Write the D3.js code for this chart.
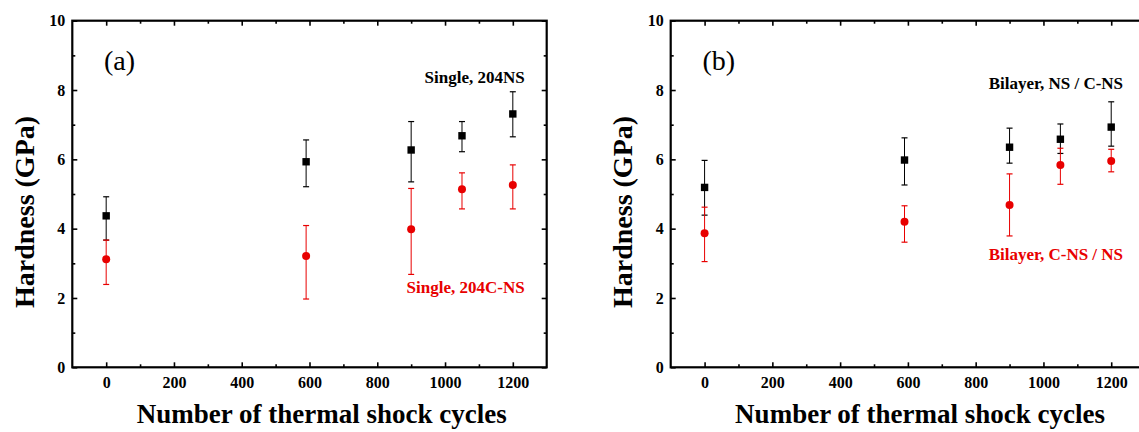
<!DOCTYPE html>
<html>
<head>
<meta charset="utf-8">
<script src="https://cdn.jsdelivr.net/npm/d3@7"></script>
<style>
  body { margin: 0; background: #fff; }
</style>
</head>
<body>
<svg width="1139" height="432"></svg>
<script>
// thermal shock cycles (x) shared by every series
const cycles = [0, 590, 900, 1050, 1200];

// panel (a) single layer
const single204NS = [4.37, 5.93, 6.27, 6.68, 7.31];
const single204NSLow = [3.67, 5.21, 5.35, 6.22, 6.65];
const single204NSHigh = [4.92, 6.56, 7.09, 7.09, 7.95];
const single204CNS = [3.12, 3.21, 3.98, 5.14, 5.26];
const single204CNSLow = [2.39, 1.97, 2.68, 4.57, 4.57];
const single204CNSHigh = [3.67, 4.09, 5.16, 5.61, 5.84];

// panel (b) bilayer
const bilayerNS = [5.19, 5.98, 6.35, 6.58, 6.93];
const bilayerNSLow = [4.39, 5.26, 5.89, 6.17, 6.38];
const bilayerNSHigh = [5.97, 6.62, 6.90, 7.02, 7.66];
const bilayerCNS = [3.87, 4.20, 4.68, 5.84, 5.95];
const bilayerCNSLow = [3.05, 3.61, 3.79, 5.28, 5.64];
const bilayerCNSHigh = [4.62, 4.66, 5.58, 6.32, 6.29];

const xMajor = [0, 200, 400, 600, 800, 1000, 1200];
const xMinor = [100, 300, 500, 700, 900, 1100];
const yMajor = [0, 2, 4, 6, 8, 10];
const yMinor = [1, 3, 5, 7, 9];

const RED = "#e80000";
const FONT = "'Liberation Serif', 'Times New Roman', Times, serif";

window.addEventListener('load', () => {
    const svg = d3.select("svg").style("font-family", FONT);
    const W = 474.4, H = 346.6;

    const panels = [
        { left: 72.3, tag: "(a)",
          series: [
            { y: single204NS, lo: single204NSLow, hi: single204NSHigh, color: "#000", shape: "square" },
            { y: single204CNS, lo: single204CNSLow, hi: single204CNSHigh, color: RED, shape: "circle" }
          ],
          labels: [
            { text: "Single, 204NS", color: "#000", y: 62.3 },
            { text: "Single, 204C-NS", color: RED, y: 272.3 }
          ] },
        { left: 670.7, tag: "(b)",
          series: [
            { y: bilayerNS, lo: bilayerNSLow, hi: bilayerNSHigh, color: "#000", shape: "square" },
            { y: bilayerCNS, lo: bilayerCNSLow, hi: bilayerCNSHigh, color: RED, shape: "circle" }
          ],
          labels: [
            { text: "Bilayer, NS / C-NS", color: "#000", y: 68.3 },
            { text: "Bilayer, C-NS / NS", color: RED, y: 239.3 }
          ] }
    ];

    panels.forEach(p => {
        const g = svg.append("g").attr("transform", "translate(" + p.left + ",20.7)");
        const x = d3.scaleLinear().domain([-100, 1300]).range([0, W]);
        const y = d3.scaleLinear().domain([0, 10]).range([H, 0]);

        // ticks point inward on all four sides
        const styleAxis = (sel) => {
            sel.attr("font-family", FONT);
            sel.select(".domain").remove();
            sel.selectAll(".tick line").attr("stroke", "#000").attr("stroke-width", 1.6);
            sel.selectAll("text").attr("fill", "#000")
                .style("font-family", FONT).style("font-size", "16px").style("font-weight", "bold");
        };
        const fmt = d3.format("d");
        g.append("g").attr("transform", "translate(0," + H + ")")
            .call(d3.axisBottom(x).tickValues(xMajor).tickSize(-5).tickPadding(9).tickFormat(fmt)).call(styleAxis);
        g.append("g").attr("transform", "translate(0," + H + ")")
            .call(d3.axisBottom(x).tickValues(xMinor).tickSize(-3).tickFormat("")).call(styleAxis);
        g.append("g").call(d3.axisTop(x).tickValues(xMajor).tickSize(-5).tickFormat("")).call(styleAxis);
        g.append("g").call(d3.axisTop(x).tickValues(xMinor).tickSize(-3).tickFormat("")).call(styleAxis);
        g.append("g").call(d3.axisLeft(y).tickValues(yMajor).tickSize(-5).tickPadding(7).tickFormat(fmt)).call(styleAxis);
        g.append("g").call(d3.axisLeft(y).tickValues(yMinor).tickSize(-3).tickFormat("")).call(styleAxis);
        g.append("g").attr("transform", "translate(" + W + ",0)")
            .call(d3.axisRight(y).tickValues(yMajor).tickSize(-5).tickFormat("")).call(styleAxis);
        g.append("g").attr("transform", "translate(" + W + ",0)")
            .call(d3.axisRight(y).tickValues(yMinor).tickSize(-3).tickFormat("")).call(styleAxis);

        // frame
        g.append("rect").attr("width", W).attr("height", H)
            .attr("fill", "none").attr("stroke", "#000").attr("stroke-width", 2.2);

        // series with error bars
        p.series.forEach(s => {
            const rows = cycles.map((c, i) => ({ c: c, v: s.y[i], lo: s.lo[i], hi: s.hi[i] }));
            const sg = g.append("g");
            sg.selectAll(".bar").data(rows).enter().append("line")
                .attr("x1", d => x(d.c)).attr("x2", d => x(d.c))
                .attr("y1", d => y(d.lo)).attr("y2", d => y(d.hi))
                .attr("stroke", s.color).attr("stroke-width", 1);
            ["lo", "hi"].forEach(k => {
                sg.selectAll(".cap-" + k).data(rows).enter().append("line")
                    .attr("x1", d => x(d.c) - 3).attr("x2", d => x(d.c) + 3)
                    .attr("y1", d => y(d[k])).attr("y2", d => y(d[k]))
                    .attr("stroke", s.color).attr("stroke-width", 1.2);
            });
            if (s.shape === "square") {
                sg.selectAll(".pt").data(rows).enter().append("rect")
                    .attr("x", d => x(d.c) - 3.7).attr("y", d => y(d.v) - 3.7)
                    .attr("width", 7.4).attr("height", 7.4).attr("fill", s.color);
            } else {
                sg.selectAll(".pt").data(rows).enter().append("circle")
                    .attr("cx", d => x(d.c)).attr("cy", d => y(d.v))
                    .attr("r", 4).attr("fill", s.color);
            }
        });

        // series labels
        p.labels.forEach(l => {
            g.append("text").attr("x", 452.4).attr("y", l.y)
                .attr("text-anchor", "end").attr("fill", l.color)
                .style("font-size", "17px").style("font-weight", "bold")
                .text(l.text);
        });

        // panel tag
        g.append("text").attr("x", 31.7).attr("y", 49.5)
            .style("font-size", "28px").attr("fill", "#000").text(p.tag);

        // axis titles
        g.append("text").attr("x", 249.4).attr("y", 402.6)
            .attr("text-anchor", "middle").style("font-size", "27px").style("font-weight", "bold")
            .text("Number of thermal shock cycles");
        g.append("text").attr("transform", "translate(-38.5," + (H / 2 + 18) + ") rotate(-90)")
            .attr("text-anchor", "middle").style("font-size", "28px").style("font-weight", "bold")
            .text("Hardness (GPa)");
    });
});
</script>
</body>
</html>
